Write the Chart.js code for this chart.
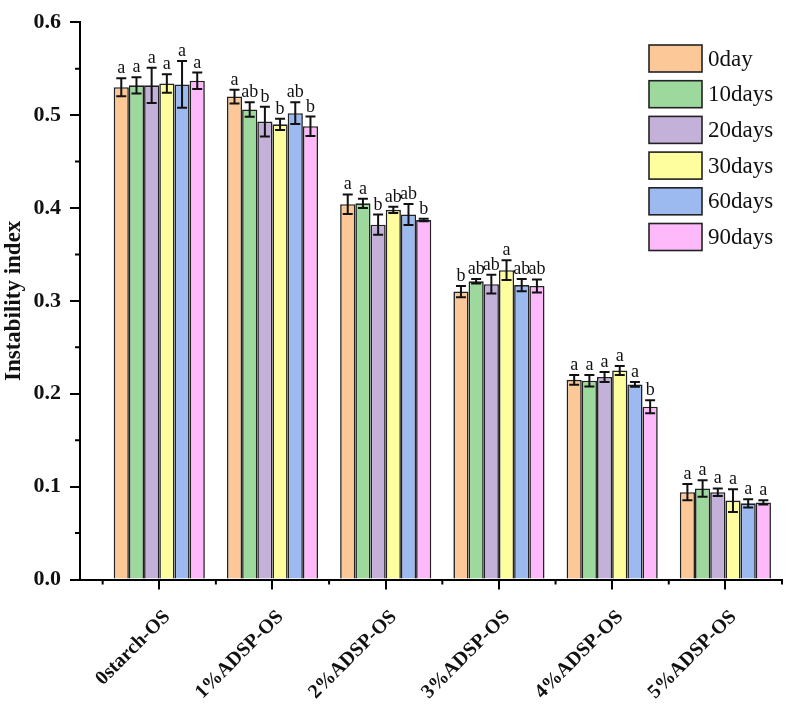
<!DOCTYPE html>
<html>
<head>
<meta charset="utf-8">
<script src="https://cdn.jsdelivr.net/npm/chart.js@4.4.1/dist/chart.umd.min.js"></script>
<style>
  html, body { margin: 0; padding: 0; background: #ffffff; }
  canvas { display: block; }
</style>
</head>
<body>
<canvas id="c" width="787" height="706"></canvas>
<script>
// ---------- data ----------
const categories = ['0starch-OS', '1%ADSP-OS', '2%ADSP-OS', '3%ADSP-OS', '4%ADSP-OS', '5%ADSP-OS'];
const seriesNames = ['0day', '10days', '20days', '30days', '60days', '90days'];

const day0  = [0.530, 0.520, 0.404, 0.310, 0.215, 0.094];
const day10 = [0.532, 0.506, 0.405, 0.321, 0.214, 0.098];
const day20 = [0.532, 0.493, 0.382, 0.318, 0.218, 0.094];
const day30 = [0.534, 0.490, 0.398, 0.333, 0.225, 0.085];
const day60 = [0.533, 0.502, 0.393, 0.317, 0.210, 0.082];
const day90 = [0.537, 0.488, 0.387, 0.316, 0.186, 0.083];

const err0  = [0.0097, 0.0074, 0.0106, 0.0061, 0.0053, 0.0088];
const err10 = [0.0088, 0.0077, 0.0050, 0.0024, 0.0061, 0.0088];
const err20 = [0.0189, 0.0161, 0.0109, 0.0101, 0.0053, 0.0040];
const err30 = [0.0099, 0.0061, 0.0034, 0.0106, 0.0048, 0.0122];
const err60 = [0.0251, 0.0117, 0.0113, 0.0066, 0.0026, 0.0045];
const err90 = [0.0088, 0.0104, 0.0014, 0.0071, 0.0071, 0.0023];

const sig0  = ['a', 'a',  'a',  'b',  'a', 'a'];
const sig10 = ['a', 'ab', 'a',  'ab', 'a', 'a'];
const sig20 = ['a', 'b',  'b',  'ab', 'a', 'a'];
const sig30 = ['a', 'b',  'ab', 'a',  'a', 'a'];
const sig60 = ['a', 'ab', 'ab', 'ab', 'a', 'a'];
const sig90 = ['a', 'b',  'b',  'ab', 'b', 'a'];

const yTickValues = [0.0, 0.1, 0.2, 0.3, 0.4, 0.5, 0.6];

// ---------- styling ----------
const seriesValues = [day0, day10, day20, day30, day60, day90];
const seriesErrors = [err0, err10, err20, err30, err60, err90];
const seriesSig = [sig0, sig10, sig20, sig30, sig60, sig90];
const colors = ['#FCC898', '#9DD89D', '#C3B1DA', '#FFFE9E', '#9DBAF0', '#FDB9FA'];
const SERIF = '"Liberation Serif", "Times New Roman", serif';

const datasets = seriesNames.map((name, s) => ({
  label: name,
  data: seriesValues[s].map((v, i) => ({ x: i, y: v })),
  backgroundColor: colors[s],
  borderColor: '#222',
  borderWidth: 1.6,
  borderSkipped: 'bottom',
  categoryPercentage: 0.805,
  barPercentage: 1.0
}));

const extrasPlugin = {
  id: 'extras',
  afterDatasetsDraw(chart) {
    const ctx = chart.ctx;
    const xs = chart.scales.x, ys = chart.scales.y;
    ctx.save();
    // error bars + letters
    chart.data.datasets.forEach((ds, s) => {
      const meta = chart.getDatasetMeta(s);
      meta.data.forEach((bar, i) => {
        const v = seriesValues[s][i], e = seriesErrors[s][i];
        const yTop = ys.getPixelForValue(v + e);
        const yBot = ys.getPixelForValue(v - e);
        const cx = bar.x;
        const cap = 5;
        ctx.strokeStyle = '#111';
        ctx.lineWidth = 2;
        ctx.beginPath();
        ctx.moveTo(cx, yTop); ctx.lineTo(cx, yBot);
        ctx.moveTo(cx - cap, yTop); ctx.lineTo(cx + cap, yTop);
        ctx.moveTo(cx - cap, yBot); ctx.lineTo(cx + cap, yBot);
        ctx.stroke();
        ctx.fillStyle = '#111';
        ctx.font = '18px ' + SERIF;
        ctx.textAlign = 'center';
        ctx.textBaseline = 'alphabetic';
        ctx.fillText(seriesSig[s][i], cx, yTop - 5);
      });
    });
    // minor ticks
    ctx.strokeStyle = '#000';
    ctx.lineWidth = 2;
    ctx.beginPath();
    for (let k = -0.5; k <= 5.5; k += 1) {
      const px = xs.getPixelForValue(k);
      ctx.moveTo(px, xs.top); ctx.lineTo(px, xs.top + 5);
    }
    for (let k = 0.05; k < 0.6; k += 0.1) {
      const py = ys.getPixelForValue(k);
      ctx.moveTo(ys.right, py); ctx.lineTo(ys.right - 5, py);
    }
    ctx.stroke();
    // legend
    const lx = 649, ly = 45, bw = 53, bh = 27, gap = 35.7;
    chart.data.datasets.forEach((ds, s) => {
      const y = ly + s * gap;
      ctx.fillStyle = ds.backgroundColor;
      ctx.fillRect(lx, y, bw, bh);
      ctx.strokeStyle = '#222';
      ctx.lineWidth = 1.6;
      ctx.strokeRect(lx, y, bw, bh);
      ctx.fillStyle = '#111';
      ctx.font = '23px ' + SERIF;
      ctx.textAlign = 'left';
      ctx.textBaseline = 'middle';
      ctx.fillText(ds.label, lx + bw + 6, y + bh / 2 + 1);
    });
    ctx.restore();
  }
};

new Chart(document.getElementById('c'), {
  type: 'bar',
  data: { datasets },
  options: {
    responsive: false,
    devicePixelRatio: 1,
    animation: false,
    layout: { padding: { top: 13, right: 5, left: 0, bottom: 0 } },
    plugins: { legend: { display: false }, tooltip: { enabled: false } },
    scales: {
      x: {
        type: 'linear',
        min: -0.7,
        max: 5.5,
        offset: false,
        afterBuildTicks: (scale) => { scale.ticks = categories.map((c, i) => ({ value: i })); },
        afterFit: (scale) => { scale.height = 126.5; },
        grid: { display: true, offset: false, drawOnChartArea: false, drawTicks: true, tickLength: 10, color: '#000', lineWidth: 2 },
        border: { display: true, color: '#000', width: 2 },
        ticks: {
          autoSkip: false,
          minRotation: 45,
          maxRotation: 45,
          padding: 16,
          labelOffset: 8,
          color: '#111',
          font: { family: SERIF, size: 20, weight: 'bold' },
          callback: (v) => categories[Math.round(v)] ?? ''
        }
      },
      y: {
        min: 0,
        max: 0.6,
        afterBuildTicks: (scale) => { scale.ticks = yTickValues.map(v => ({ value: v })); },
        afterFit: (scale) => { scale.width = 80; },
        grid: { display: true, drawOnChartArea: false, drawTicks: true, tickLength: 10, color: '#000', lineWidth: 2 },
        border: { display: true, color: '#000', width: 2 },
        ticks: {
          padding: 9,
          color: '#111',
          font: { family: SERIF, size: 22, weight: 'bold' },
          callback: (v) => Number(v).toFixed(1)
        },
        title: {
          display: true,
          text: 'Instability index',
          color: '#111',
          font: { family: SERIF, size: 23, weight: 'bold' },
          padding: { top: 0, bottom: 0 }
        }
      }
    }
  },
  plugins: [extrasPlugin]
});
</script>
</body>
</html>
